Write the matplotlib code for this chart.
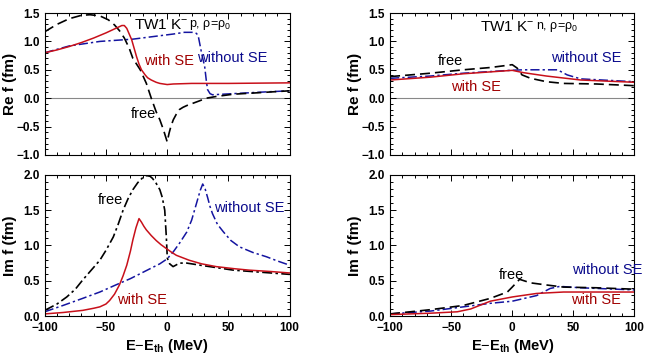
import numpy as np
import matplotlib.pyplot as plt
from matplotlib.ticker import MultipleLocator

plt.rcParams['font.family'] = ['Liberation Sans', 'DejaVu Sans']
plt.rcParams['mathtext.fontset'] = 'custom'
plt.rcParams['mathtext.rm'] = 'Liberation Sans'
plt.rcParams['mathtext.it'] = 'Liberation Sans'
plt.rcParams['mathtext.bf'] = 'Liberation Sans:bold'

# ---- data (E - E_th in MeV, f in fm) ----
# K-p, Re f
kp_re_free_x = [-100, -90, -80, -70, -63, -55, -48, -43, -39, -35, -31, -28, -25, -22, -17, -13, -9, -6, -3, -1, 0, 1.5, 3, 5, 7.5, 10, 13, 16, 21, 26, 32, 40, 54, 70, 85, 100]
kp_re_free_y = [1.17, 1.30, 1.40, 1.46, 1.47, 1.45, 1.38, 1.29, 1.19, 1.06, 0.88, 0.70, 0.60, 0.50, 0.26, 0.0, -0.24, -0.38, -0.56, -0.70, -0.77, -0.62, -0.50, -0.38, -0.28, -0.20, -0.16, -0.13, -0.09, -0.05, 0.0, 0.03, 0.07, 0.09, 0.11, 0.13]
kp_re_se_x = [-100, -90, -80, -70, -60, -50, -45, -40, -37, -35, -33, -31, -29, -27, -25, -23, -21, -18, -16, -13, -9, -6, -3, 0, 5, 20, 50, 100]
kp_re_se_y = [0.80, 0.85, 0.91, 0.98, 1.06, 1.15, 1.20, 1.25, 1.28, 1.28, 1.23, 1.13, 1.03, 0.88, 0.73, 0.60, 0.50, 0.41, 0.36, 0.32, 0.28, 0.26, 0.25, 0.24, 0.25, 0.26, 0.26, 0.27]
kp_re_nose_x = [-100, -80, -55, -28, 5, 14, 21, 24, 25.5, 26.5, 28.5, 30.6, 32, 33, 35, 37, 54, 80, 100]
kp_re_nose_y = [0.80, 0.92, 1.0, 1.04, 1.13, 1.16, 1.16, 1.14, 1.08, 0.97, 0.75, 0.56, 0.30, 0.15, 0.08, 0.06, 0.08, 0.11, 0.13]

# K-p, Im f
kp_im_free_x = [-100, -90, -82, -75, -69, -62, -55, -50, -44, -40, -36, -32, -28, -24, -20, -17, -14, -12, -9, -6, -4, -2, -0.7, 0.1, 2, 4.8, 7, 10, 16, 27, 54, 100]
kp_im_free_y = [0.08, 0.17, 0.27, 0.38, 0.51, 0.65, 0.79, 0.93, 1.12, 1.30, 1.50, 1.66, 1.79, 1.89, 1.96, 1.99, 1.98, 1.95, 1.88, 1.79, 1.68, 1.50, 1.12, 0.82, 0.74, 0.70, 0.72, 0.75, 0.75, 0.72, 0.65, 0.59]
kp_im_se_x = [-100, -85, -69, -60, -55, -50, -47, -43, -39, -36, -33, -30, -28, -25.5, -23, -21, -19, -17, -13, -9, -5, -1, 3, 7.5, 12, 18, 28, 40, 55, 67, 85, 100]
kp_im_se_y = [0.03, 0.05, 0.08, 0.11, 0.13, 0.17, 0.22, 0.31, 0.44, 0.57, 0.72, 0.92, 1.08, 1.25, 1.38, 1.33, 1.27, 1.22, 1.14, 1.07, 1.01, 0.96, 0.91, 0.86, 0.83, 0.79, 0.74, 0.70, 0.67, 0.65, 0.63, 0.61]
kp_im_nose_x = [-100, -85, -69, -55, -42, -30, -22, -14, -6, 0, 5, 10, 16, 20, 24, 27, 29, 31, 33, 35, 37, 41, 46, 52, 59, 70, 81, 90, 100]
kp_im_nose_y = [0.06, 0.15, 0.25, 0.34, 0.44, 0.53, 0.60, 0.67, 0.74, 0.81, 0.91, 1.03, 1.19, 1.36, 1.60, 1.78, 1.87, 1.80, 1.68, 1.55, 1.45, 1.30, 1.19, 1.07, 0.98, 0.90, 0.84, 0.78, 0.72]

# K-n, Re f
kn_re_free_x = [-100, -67, -40, -18, 0, 4, 8, 15, 28, 42, 69, 100]
kn_re_free_y = [0.38, 0.44, 0.50, 0.54, 0.59, 0.53, 0.41, 0.35, 0.29, 0.26, 0.25, 0.22]
kn_re_se_x = [-100, -67, -40, 0, 9, 28, 56, 100]
kn_re_se_y = [0.32, 0.37, 0.43, 0.49, 0.45, 0.39, 0.32, 0.28]
kn_re_nose_x = [-100, -67, -40, -2, 9, 28, 37, 45, 56, 100]
kn_re_nose_y = [0.35, 0.39, 0.44, 0.49, 0.50, 0.50, 0.50, 0.41, 0.34, 0.29]

# K-n, Im f
kn_im_free_x = [-100, -67, -40, -18, -4, 0, 6, 15, 28, 42, 69, 100]
kn_im_free_y = [0.03, 0.09, 0.15, 0.25, 0.34, 0.41, 0.52, 0.47, 0.44, 0.41, 0.40, 0.38]
kn_im_se_x = [-100, -67, -45, -34, -18, 0, 20, 42, 100]
kn_im_se_y = [0.02, 0.04, 0.06, 0.10, 0.21, 0.27, 0.32, 0.34, 0.34]
kn_im_nose_x = [-100, -67, -40, -18, 0, 20, 31, 39, 56, 100]
kn_im_nose_y = [0.03, 0.07, 0.13, 0.18, 0.21, 0.29, 0.39, 0.42, 0.40, 0.37]

RED = '#c8101a'
RED_TXT = '#a00000'
BLUE = '#1414a0'
BLUE_TXT = '#0a0a8c'

fig = plt.figure(figsize=(6.48, 3.62), dpi=100)
ax_lre = fig.add_axes([0.069, 0.572, 0.378, 0.392])
ax_lim = fig.add_axes([0.069, 0.127, 0.378, 0.390])
ax_rre = fig.add_axes([0.602, 0.572, 0.377, 0.392])
ax_rim = fig.add_axes([0.602, 0.127, 0.377, 0.390])


def style(ax, re):
    ax.set_xlim(-100, 100)
    if re:
        ax.set_ylim(-1.0, 1.5)
        ax.axhline(0, color='#888888', lw=0.8, zorder=0)
        ax.set_ylabel('Re f (fm)', fontsize=11, fontweight='bold')
        ax.tick_params(labelbottom=False)
    else:
        ax.set_ylim(0, 2.0)
        ax.set_ylabel('Im f (fm)', fontsize=11, fontweight='bold')
        ax.set_xlabel(r'E$-$E$_{\mathbf{th}}$ (MeV)', fontsize=10.5, fontweight='bold')
        ax.xaxis.set_label_coords(0.5, -0.15)
    ax.yaxis.set_label_coords(-0.115, 0.5)
    ax.xaxis.set_major_locator(MultipleLocator(50))
    ax.xaxis.set_minor_locator(MultipleLocator(10))
    ax.yaxis.set_major_locator(MultipleLocator(0.5))
    ax.yaxis.set_minor_locator(MultipleLocator(0.1))
    ax.tick_params(which='both', direction='in', top=True, right=True, width=0.7)
    ax.tick_params(which='major', length=4, labelsize=8.5)
    ax.tick_params(which='minor', length=2)
    ax.tick_params(axis='x', pad=4)
    for lab in ax.get_xticklabels() + ax.get_yticklabels():
        lab.set_fontweight('bold')
    for s in ax.spines.values():
        s.set_linewidth(0.8)


def curves(ax, fx, fy, sx, sy, nx, ny, free_ls):
    ax.plot(nx, ny, color=BLUE, ls=(0, (6, 2, 1.5, 2)), lw=1.1)
    ax.plot(fx, fy, color='black', ls=free_ls, lw=1.2)
    ax.plot(sx, sy, color=RED, lw=1.1)


def title(ax, x, y, target):
    t = ax.text(x, y, r'TW1 K$^{-}$', fontsize=11, va='bottom')
    ax.annotate(target + r', $\rho$=$\rho_0$', xy=(1, 0), xycoords=t,
                xytext=(0.5, 0), textcoords='offset points',
                fontsize=9, va='bottom', ha='left')


curves(ax_lre, kp_re_free_x, kp_re_free_y, kp_re_se_x, kp_re_se_y, kp_re_nose_x, kp_re_nose_y, (0, (6, 3)))
curves(ax_lim, kp_im_free_x, kp_im_free_y, kp_im_se_x, kp_im_se_y, kp_im_nose_x, kp_im_nose_y, (0, (6, 2, 1.5, 2)))
curves(ax_rre, kn_re_free_x, kn_re_free_y, kn_re_se_x, kn_re_se_y, kn_re_nose_x, kn_re_nose_y, (0, (6, 3)))
curves(ax_rim, kn_im_free_x, kn_im_free_y, kn_im_se_x, kn_im_se_y, kn_im_nose_x, kn_im_nose_y, (0, (6, 3)))

style(ax_lre, True)
style(ax_lim, False)
style(ax_rre, True)
style(ax_rim, False)

fs = 10.5
title(ax_lre, -27, 1.17, 'p')
ax_lre.text(-19, 0.66, 'with SE', color=RED_TXT, fontsize=fs, va='center')
ax_lre.text(24, 0.70, 'without SE', color=BLUE_TXT, fontsize=fs, va='center')
ax_lre.text(-30, -0.27, 'free', color='black', fontsize=fs, va='center')

ax_lim.text(-57, 1.64, 'free', color='black', fontsize=fs, va='center')
ax_lim.text(38, 1.53, 'without SE', color=BLUE_TXT, fontsize=fs, va='center')
ax_lim.text(-41, 0.22, 'with SE', color=RED_TXT, fontsize=fs, va='center')

title(ax_rre, -26, 1.13, 'n')
ax_rre.text(-61, 0.65, 'free', color='black', fontsize=fs, va='center')
ax_rre.text(32, 0.70, 'without SE', color=BLUE_TXT, fontsize=fs, va='center')
ax_rre.text(-50, 0.20, 'with SE', color=RED_TXT, fontsize=fs, va='center')

ax_rim.text(-11, 0.58, 'free', color='black', fontsize=fs, va='center')
ax_rim.text(49, 0.65, 'without SE', color=BLUE_TXT, fontsize=fs, va='center')
ax_rim.text(48, 0.22, 'with SE', color=RED_TXT, fontsize=fs, va='center')

fig.savefig('out.png', dpi=100)
